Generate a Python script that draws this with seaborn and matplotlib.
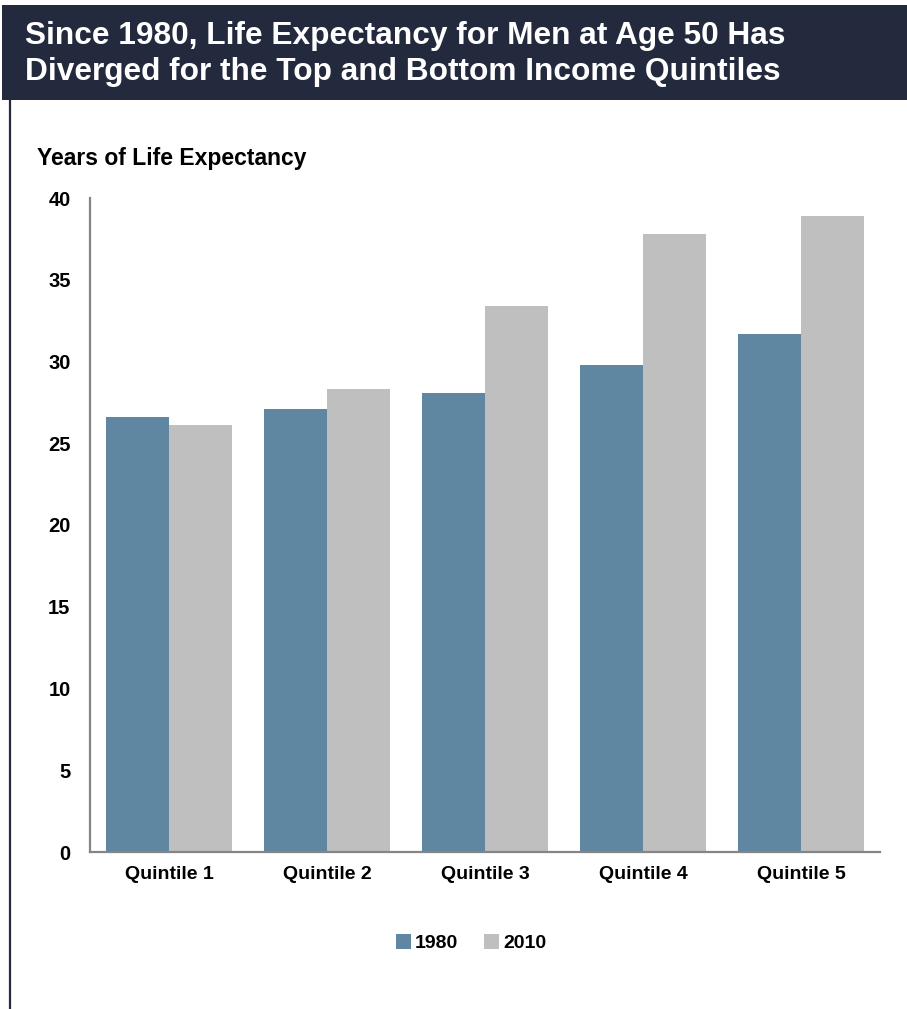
# Life expectancy at age 50 for men, by income quintile, 1980 vs 2010
import matplotlib
matplotlib.use('Agg')
import matplotlib.pyplot as plt
from matplotlib.patches import Rectangle
from matplotlib.lines import Line2D
import seaborn as sns
import pandas as pd

quintiles = ['Quintile 1', 'Quintile 2', 'Quintile 3', 'Quintile 4', 'Quintile 5']
years = ['1980', '2010']
le_1980 = [26.6, 27.1, 28.1, 29.8, 31.7]
le_2010 = [26.1, 28.3, 33.4, 37.8, 38.9]
y_ticks = [0, 5, 10, 15, 20, 25, 30, 35, 40]

title = 'Since 1980, Life Expectancy for Men at Age 50 Has\nDiverged for the Top and Bottom Income Quintiles'
ylabel = 'Years of Life Expectancy'

navy = '#242a3e'
blue = '#5f87a1'
grey = '#bfbfbf'
axis_grey = '#858585'

sns.set_style('white')
fonts = ['Liberation Sans', 'DejaVu Sans']
plt.rcParams['font.family'] = fonts
plt.rcParams['text.color'] = 'black'
plt.rcParams['xtick.labelcolor'] = 'black'
plt.rcParams['ytick.labelcolor'] = 'black'

df = pd.DataFrame({
    'Quintile': quintiles * 2,
    'Year': [years[0]] * len(quintiles) + [years[1]] * len(quintiles),
    'LE': le_1980 + le_2010,
})

W, H = 907, 1009
fig = plt.figure(figsize=(W / 100, H / 100), dpi=100)

# title banner and left rule
fig.patches.append(Rectangle((2 / W, 1 - 100 / H), 1, 95 / H, transform=fig.transFigure,
                             facecolor=navy, edgecolor='none', zorder=0))
fig.lines.append(Line2D([10 / W, 10 / W], [0, 1 - 100 / H], transform=fig.transFigure,
                        color=navy, linewidth=1.6))
fig.text(25 / W, 1 - 54 / H, title, color='white', fontsize=22.8, fontweight='bold',
         va='center', ha='left', linespacing=1.27)

ax = fig.add_axes([90 / W, 1 - 852 / H, 790 / W, 654 / H])
sns.barplot(data=df, x='Quintile', y='LE', hue='Year', order=quintiles, hue_order=years,
            palette=[blue, grey], width=0.8, gap=0, saturation=1, linewidth=0,
            ax=ax, legend=True)

ax.set_ylim(0, 40)
ax.set_xlim(-0.5, len(quintiles) - 0.5)
ax.set_yticks(y_ticks)
ax.set_xlabel('')
ax.set_ylabel('')
for s in ['top', 'right']:
    ax.spines[s].set_visible(False)
for s in ['left', 'bottom']:
    ax.spines[s].set_color(axis_grey)
    ax.spines[s].set_linewidth(1.6)

ax.tick_params(axis='y', length=6, width=1.6, color=axis_grey, pad=8,
               labelsize=14.5, labelcolor='black')
ax.tick_params(axis='x', which='major', length=0, pad=10, labelsize=14, labelcolor='black')
ax.set_xticks([i - 0.5 for i in range(len(quintiles) + 1)], minor=True)
ax.tick_params(axis='x', which='minor', length=7, width=1.2, color=axis_grey)
for lab in ax.get_xticklabels() + ax.get_yticklabels():
    lab.set_fontweight('bold')

fig.text(37 / W, 1 - 158 / H, ylabel, fontsize=16.5, fontweight='bold', color='black',
         va='center', ha='left')

handles, labels = ax.get_legend_handles_labels()
leg = ax.legend(handles, labels, loc='center', bbox_to_anchor=(471 / W, 1 - 943 / H),
                bbox_transform=fig.transFigure, ncol=2, frameon=False, handlelength=0.8,
                handleheight=0.8, handletextpad=0.2, columnspacing=1.3,
                prop={'size': 14, 'weight': 'bold'})
for t in leg.get_texts():
    t.set_color('black')

fig.savefig('out.png', dpi=100)
